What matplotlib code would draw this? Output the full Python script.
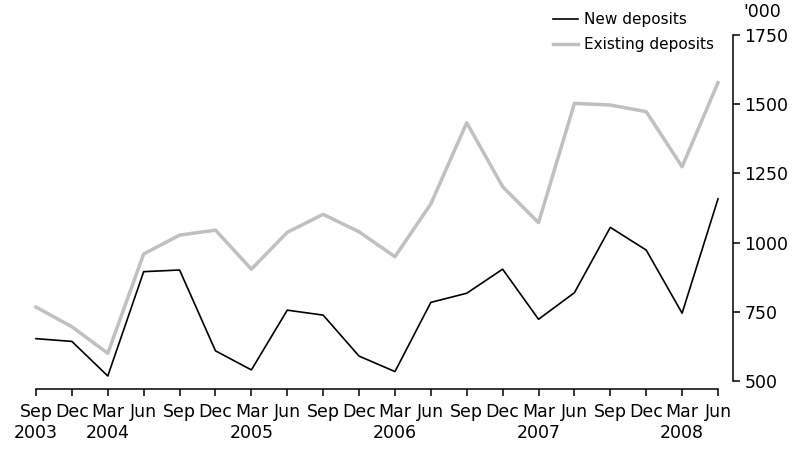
import matplotlib.pyplot as plt
from matplotlib.ticker import FixedLocator

# quarterly data, Sep 2003 .. Jun 2008 ('000)
quarters = ["Sep\n2003", "Dec", "Mar\n2004", "Jun", "Sep", "Dec", "Mar\n2005", "Jun",
            "Sep", "Dec", "Mar\n2006", "Jun", "Sep", "Dec", "Mar\n2007", "Jun",
            "Sep", "Dec", "Mar\n2008", "Jun"]
new_deposits = [653, 643, 518, 895, 901, 609, 540, 756, 738, 590,
                534, 784, 817, 904, 723, 819, 1055, 973, 745, 1158]
existing_deposits = [767, 696, 600, 959, 1027, 1045, 904, 1037, 1102, 1039,
                     949, 1140, 1433, 1202, 1072, 1503, 1497, 1473, 1274, 1578]
y_ticks = [500, 750, 1000, 1250, 1500, 1750]

plt.rcParams["font.family"] = "DejaVu Sans"

fig = plt.figure(figsize=(7.96, 4.5), dpi=100)
ax = fig.add_axes([36 / 796, 1 - 381 / 450, (718 - 36) / 796, (381 - 35) / 450])

x = list(range(len(quarters)))
ax.plot(x, new_deposits, color="black", lw=1.2, label="New deposits", clip_on=False)
ax.plot(x, existing_deposits, color="#c0c0c0", lw=2.5, label="Existing deposits",
        clip_on=False)

ax.set_xlim(0, len(quarters) - 1)
ax.set_ylim(500, 1750)

# spines: only bottom and right, both pushed outward
ax.spines["top"].set_visible(False)
ax.spines["left"].set_visible(False)
ax.spines["right"].set_position(("outward", 11))
ax.spines["bottom"].set_position(("outward", 6))
for s in ("right", "bottom"):
    ax.spines[s].set_linewidth(1.1)

ax.yaxis.tick_right()
ax.yaxis.set_major_locator(FixedLocator(y_ticks))
ax.set_yticklabels([str(v) for v in y_ticks])
ax.set_xticks(x)
ax.set_xticklabels(quarters)
ax.tick_params(axis="both", direction="out", length=5, width=1.1, labelsize=12.5,
               pad=3)
ax.tick_params(axis="x", pad=5)
for lbl in ax.get_xticklabels():
    lbl.set_linespacing(1.2)
    lbl.set_verticalalignment("top")

ax.annotate("'000", xy=(1, 1), xycoords="axes fraction", xytext=(18, 10),
            textcoords="offset points", fontsize=12.5, ha="left", va="bottom")

ax.legend(loc="upper right", bbox_to_anchor=(714 / 796, 1 - 12 / 450),
          bbox_transform=fig.transFigure, frameon=False, fontsize=11,
          handlelength=1.6, handletextpad=0.4, labelspacing=0.65,
          borderpad=0, borderaxespad=0)

fig.savefig("out.png", dpi=100)
